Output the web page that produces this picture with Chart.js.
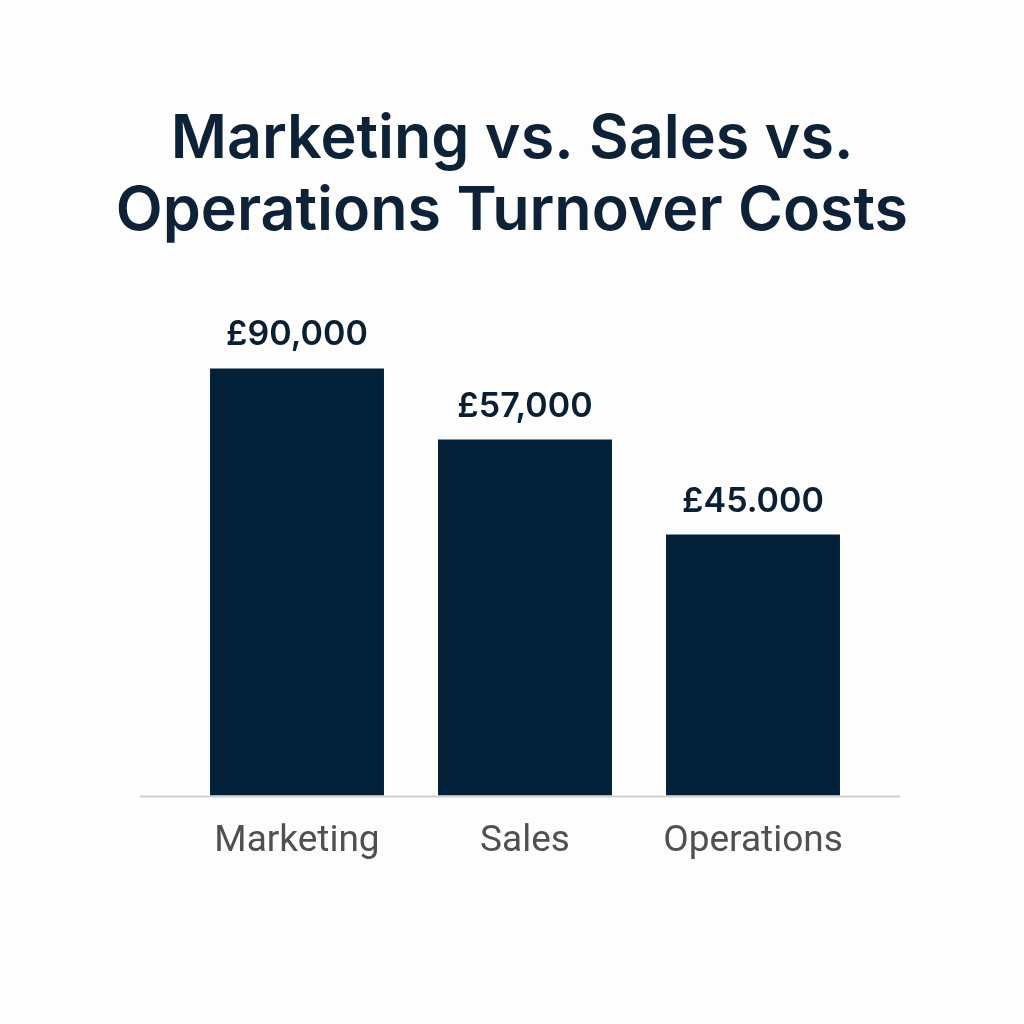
<!DOCTYPE html>
<html>
<head>
<meta charset="utf-8">
<script src="https://cdn.jsdelivr.net/npm/chart.js@4/dist/chart.umd.min.js"></script>
<style>
	html, body { margin: 0; padding: 0; background: #fdfdfd; }
	#wrap { width: 1024px; height: 1024px; }
</style>
</head>
<body>
<div id="wrap"><canvas id="main" width="1024" height="1024"></canvas></div>
<script>
// data
// note: the printed labels do not match the drawn bar heights,
// so bar heights and label text are kept apart
var categories = ['Marketing', 'Sales', 'Operations'];
var barValues = [90000, 75000, 55000];
var valueLabels = ['£90,000', '£57,000', '£45.000'];
var titleLines = ['Marketing vs. Sales vs.', 'Operations Turnover Costs'];

var navy = '#03223a';

// grey base line, a bit wider than the plot area
var baseLine = {
	id: 'baseLine',
	beforeDatasetsDraw: function(chart){
		var ctx = chart.ctx,
			area = chart.chartArea;
		ctx.save();
		ctx.strokeStyle = '#cfcfcf';
		ctx.lineWidth = 2;
		ctx.beginPath();
		ctx.moveTo(area.left - 43, area.bottom + 1);
		ctx.lineTo(area.right + 33, area.bottom + 1);
		ctx.stroke();
		ctx.restore();
	}
};

// value text above each bar
var valueText = {
	id: 'valueText',
	afterDatasetsDraw: function(chart){
		var ctx = chart.ctx,
			meta = chart.getDatasetMeta(0);
		ctx.save();
		ctx.fillStyle = '#0b1f33';
		ctx.font = '600 34px Inter, "Noto Sans", sans-serif';
		ctx.textAlign = 'center';
		ctx.textBaseline = 'alphabetic';
		for (var i=0; i<meta.data.length; i++){
			var bar = meta.data[i];
			ctx.fillText(valueLabels[i], bar.x, bar.y - 23);
		}
		ctx.restore();
	}
};

// empty side axes just to hold the plot area in place,
// so the title keeps the full canvas width
var sideAxis = function(position, width){
	return {
		type: 'linear',
		position: position,
		display: true,
		grid: { display: false },
		border: { display: false },
		ticks: { display: false },
		afterFit: function(scale){ scale.width = width; }
	};
};

var ctx = document.getElementById('main').getContext('2d');
var yAxis = sideAxis('left', 183);
yAxis.min = 0;
yAxis.max = 100000;

var chart = new Chart(ctx, {
	type: 'bar',
	data: {
		labels: categories,
		datasets: [{
			data: barValues,
			backgroundColor: navy,
			borderWidth: 0,
			barPercentage: 0.763,
			categoryPercentage: 1
		}]
	},
	options: {
		responsive: false,
		animation: false,
		devicePixelRatio: 1,
		layout: {
			padding: { left: 0, right: 0, top: 0, bottom: 144 }
		},
		plugins: {
			legend: { display: false },
			tooltip: { enabled: false },
			title: {
				display: true,
				text: titleLines,
				color: '#0d2236',
				font: { family: 'Inter, Roboto, sans-serif', size: 61, weight: '600', lineHeight: 1.18 },
				padding: { top: 104, bottom: 73 }
			}
		},
		scales: {
			x: {
				grid: { display: false },
				border: { display: false },
				ticks: {
					color: '#505050',
					padding: 16,
					font: { family: 'Roboto, "Noto Sans", sans-serif', size: 37 }
				}
			},
			y: yAxis,
			yRight: sideAxis('right', 157)
		}
	},
	plugins: [baseLine, valueText]
});
</script>
</body>
</html>
